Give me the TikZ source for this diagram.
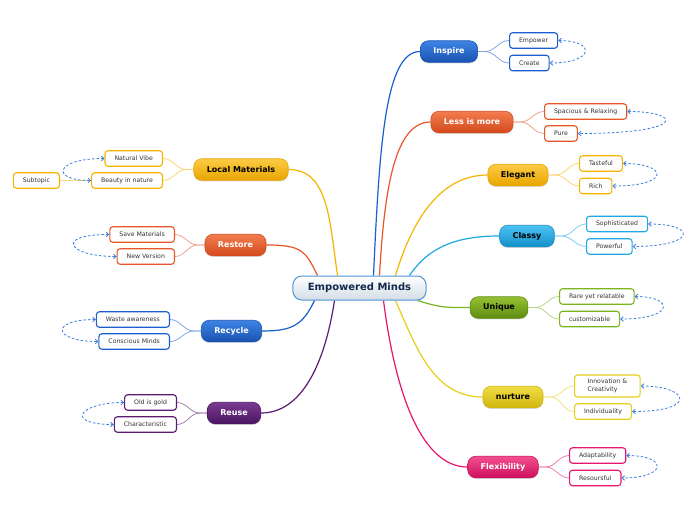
\documentclass[tikz,border=0pt]{standalone}
\usepackage{fontspec}
\setmainfont{DejaVu Sans}
\usetikzlibrary{arrows.meta,backgrounds,shadows}
\definecolor{bluT}{HTML}{3D85E6}\definecolor{bluB}{HTML}{1A52B0}\definecolor{bluS}{HTML}{1A5FD0}
\definecolor{oraT}{HTML}{F27D4E}\definecolor{oraB}{HTML}{D44A1E}\definecolor{oraS}{HTML}{E8562A}
\definecolor{ambT}{HTML}{FCCB45}\definecolor{ambB}{HTML}{E9A500}\definecolor{ambS}{HTML}{F5B400}
\definecolor{cyaT}{HTML}{4CC3F2}\definecolor{cyaB}{HTML}{138FC9}\definecolor{cyaS}{HTML}{1EA8E4}
\definecolor{greT}{HTML}{95C233}\definecolor{greB}{HTML}{5E8C10}\definecolor{greS}{HTML}{7AB51D}
\definecolor{yelT}{HTML}{F0DC45}\definecolor{yelB}{HTML}{D2B60F}\definecolor{yelS}{HTML}{E6CF1C}
\definecolor{pinT}{HTML}{F2508F}\definecolor{pinB}{HTML}{CF0F5D}\definecolor{pinS}{HTML}{E6166E}
\definecolor{purT}{HTML}{7B3B93}\definecolor{purB}{HTML}{4A1560}\definecolor{purS}{HTML}{5C1A72}
\definecolor{cblue}{HTML}{4D94D6}\definecolor{cgray}{HTML}{D3DCE6}\definecolor{navy}{HTML}{13294B}
\definecolor{relblue}{HTML}{3B7DDD}
\begin{document}
\begin{tikzpicture}[x=1pt,y=-1pt,
  cn/.style={draw=cblue, line width=1pt, rounded corners=9pt, top color=white, bottom color=cgray,
    inner xsep=15pt, inner ysep=0pt, minimum height=24pt, font=\fontsize{10}{12}\selectfont\bfseries, text=navy},
  mn/.style n args={2}{rounded corners=8pt, top color=#1T, bottom color=#1B, draw=#1B, line width=0.6pt,
    inner xsep=13pt, inner ysep=0pt, minimum height=21.5pt, font=\fontsize{8}{9.5}\selectfont\bfseries, text=#2,
    drop shadow={shadow xshift=0pt, shadow yshift=-1.2pt, opacity=0.3}},
  sb/.style={draw=#1S, fill=white, line width=1.1pt, rounded corners=3pt, inner xsep=9.5pt, inner ysep=0pt,
    minimum height=15.5pt, font=\fontsize{6.2}{7.6}\selectfont, text=black!80},
  cl/.style={draw=#1S, line width=1.2pt},
  bl/.style={draw=#1S!55, line width=0.8pt},
  rel/.style={draw=relblue, dash pattern=on 2.5pt off 2pt, line width=0.8pt,
    {Straight Barb[length=2.5pt,width=4.5pt]}-{Straight Barb[length=2.5pt,width=4.5pt]}}
]
\useasboundingbox (0,0) rectangle (696,520);

% central
\node[cn] (c) at (359.5,288) {Empowered Minds};

% main topics
\node[mn={blu}{white}] (ins) at (449,51.5) {Inspire};
\node[mn={ora}{white}] (les) at (472,122) {Less is more};
\node[mn={amb}{black}] (ele) at (518,175) {Elegant};
\node[mn={cya}{black}] (cla) at (527,236) {Classy};
\node[mn={gre}{black}] (uni) at (499,307.5) {Unique};
\node[mn={yel}{black}] (nur) at (513,397) {nurture};
\node[mn={pin}{white}] (fle) at (503,467) {Flexibility};
\node[mn={amb}{black}] (loc) at (241,169.5) {Local Materials};
\node[mn={ora}{white}] (res) at (235.5,245) {Restore};
\node[mn={blu}{white}] (rec) at (231.5,331) {Recycle};
\node[mn={pur}{white}] (reu) at (234,413) {Reuse};

% subtopics right
\node[sb=blu, anchor=west] (emp) at (509,40.5) {Empower};
\node[sb=blu, anchor=west] (cre) at (509,63) {Create};
\node[sb=ora, anchor=west] (spa) at (544,111.5) {Spacious \& Relaxing};
\node[sb=ora, anchor=west] (pur) at (544,133.5) {Pure};
\node[sb=amb, anchor=west] (tas) at (579,163.5) {Tasteful};
\node[sb=amb, anchor=west] (ric) at (579,186) {Rich};
\node[sb=cya, anchor=west] (sop) at (586,224) {Sophisticated};
\node[sb=cya, anchor=west] (pow) at (586,246.5) {Powerful};
\node[sb=gre, anchor=west] (rar) at (559,296.5) {Rare yet relatable};
\node[sb=gre, anchor=west] (cus) at (559,319) {customizable};
\node[sb=yel, anchor=west, minimum height=22pt, align=left, inner xsep=13pt] (inn) at (574,386) {Innovation \&\\Creativity};
\node[sb=yel, anchor=west] (ind) at (574,411.5) {Individuality};
\node[sb=pin, anchor=west] (ada) at (569,455.5) {Adaptability};
\node[sb=pin, anchor=west] (rso) at (569,478) {Resoursful};

% subtopics left
\node[sb=amb, anchor=east] (nat) at (163,158.5) {Natural Vibe};
\node[sb=amb, anchor=east] (bea) at (163,180.5) {Beauty in nature};
\node[sb=amb, anchor=east] (sub) at (60,180.5) {Subtopic};
\node[sb=ora, anchor=east] (sav) at (175,234.5) {Save Materials};
\node[sb=ora, anchor=east] (new) at (175,256.5) {New Version};
\node[sb=blu, anchor=east] (was) at (170,319.5) {Waste awareness};
\node[sb=blu, anchor=east] (con) at (170,341.5) {Conscious Minds};
\node[sb=pur, anchor=east] (old) at (177,402.5) {Old is gold};
\node[sb=pur, anchor=east] (cha) at (177,424.5) {Characteristic};

\begin{scope}[on background layer]
\fill[white] (0,0) rectangle (696,520);
% central connectors
\draw[cl=blu] ([xshift=14pt]c.north) .. controls +(6,-130) and +(-35,0) .. (ins.west);
\draw[cl=ora] ([xshift=20pt]c.north) .. controls +(5,-90) and +(-35,0) .. (les.west);
\draw[cl=amb] ([xshift=36pt]c.north) .. controls +(15,-50) and +(-50,0) .. (ele.west);
\draw[cl=cya] ([xshift=50pt]c.north) .. controls +(20,-30) and +(-40,0) .. (cla.west);
\draw[cl=gre] ([xshift=58pt]c.south) .. controls +(25,8) and +(-20,0) .. (uni.west);
\draw[cl=yel] ([xshift=36pt]c.south) .. controls +(20,45) and +(-50,0) .. (nur.west);
\draw[cl=pin] ([xshift=24pt]c.south) .. controls +(12,95) and +(-45,0) .. (fle.west);
\draw[cl=amb] ([xshift=-22pt]c.north) .. controls +(-8,-55) and +(40,0) .. (loc.east);
\draw[cl=ora] ([xshift=-42pt]c.north) .. controls +(-12,-25) and +(35,0) .. (res.east);
\draw[cl=blu] ([xshift=-45pt]c.south) .. controls +(-12,25) and +(30,0) .. (rec.east);
\draw[cl=pur] ([xshift=-25pt]c.south) .. controls +(-10,65) and +(40,0) .. (reu.east);
% branch connectors right
\draw[bl=blu] (ins.east) -- ++(7,0) to[out=0,in=180] (emp.west);
\draw[bl=blu] (ins.east) -- ++(7,0) to[out=0,in=180] (cre.west);
\draw[bl=ora] (les.east) -- ++(7,0) to[out=0,in=180] (spa.west);
\draw[bl=ora] (les.east) -- ++(7,0) to[out=0,in=180] (pur.west);
\draw[bl=amb] (ele.east) -- ++(7,0) to[out=0,in=180] (tas.west);
\draw[bl=amb] (ele.east) -- ++(7,0) to[out=0,in=180] (ric.west);
\draw[bl=cya] (cla.east) -- ++(7,0) to[out=0,in=180] (sop.west);
\draw[bl=cya] (cla.east) -- ++(7,0) to[out=0,in=180] (pow.west);
\draw[bl=gre] (uni.east) -- ++(7,0) to[out=0,in=180] (rar.west);
\draw[bl=gre] (uni.east) -- ++(7,0) to[out=0,in=180] (cus.west);
\draw[bl=yel] (nur.east) -- ++(7,0) to[out=0,in=180] (inn.west);
\draw[bl=yel] (nur.east) -- ++(7,0) to[out=0,in=180] (ind.west);
\draw[bl=pin] (fle.east) -- ++(7,0) to[out=0,in=180] (ada.west);
\draw[bl=pin] (fle.east) -- ++(7,0) to[out=0,in=180] (rso.west);
% branch connectors left
\draw[bl=amb] (loc.west) -- ++(-7,0) to[out=180,in=0] (nat.east);
\draw[bl=amb] (loc.west) -- ++(-7,0) to[out=180,in=0] (bea.east);
\draw[bl=amb] (sub.east) -- (bea.west);
\draw[bl=ora] (res.west) -- ++(-7,0) to[out=180,in=0] (sav.east);
\draw[bl=ora] (res.west) -- ++(-7,0) to[out=180,in=0] (new.east);
\draw[bl=blu] (rec.west) -- ++(-7,0) to[out=180,in=0] (was.east);
\draw[bl=blu] (rec.west) -- ++(-7,0) to[out=180,in=0] (con.east);
\draw[bl=pur] (reu.west) -- ++(-7,0) to[out=180,in=0] (old.east);
\draw[bl=pur] (reu.west) -- ++(-7,0) to[out=180,in=0] (cha.east);
\end{scope}

% relationship arrows
\draw[rel] (emp.east) .. controls +(38,0) and +(45,0) .. (cre.east);
\draw[rel] (spa.east) .. controls +(55,0) and +(110,0) .. (pur.east);
\draw[rel] (tas.east) .. controls +(45,0) and +(59,0) .. (ric.east);
\draw[rel] (sop.east) .. controls +(50,0) and +(63,0) .. (pow.east);
\draw[rel] (rar.east) .. controls +(40,0) and +(55,0) .. (cus.east);
\draw[rel] (inn.east) .. controls +(48,0) and +(67,0) .. (ind.east);
\draw[rel] (ada.east) .. controls +(42,0) and +(46,0) .. (rso.east);
\draw[rel] (nat.west) .. controls +(-50,0) and +(-41,0) .. (bea.west);
\draw[rel] (sav.west) .. controls +(-55,0) and +(-49,0) .. (new.west);
\draw[rel] (was.west) .. controls +(-46,0) and +(-46,0) .. (con.west);
\draw[rel] (old.west) .. controls +(-45,0) and +(-50,0) .. (cha.west);
\end{tikzpicture}
\end{document}
